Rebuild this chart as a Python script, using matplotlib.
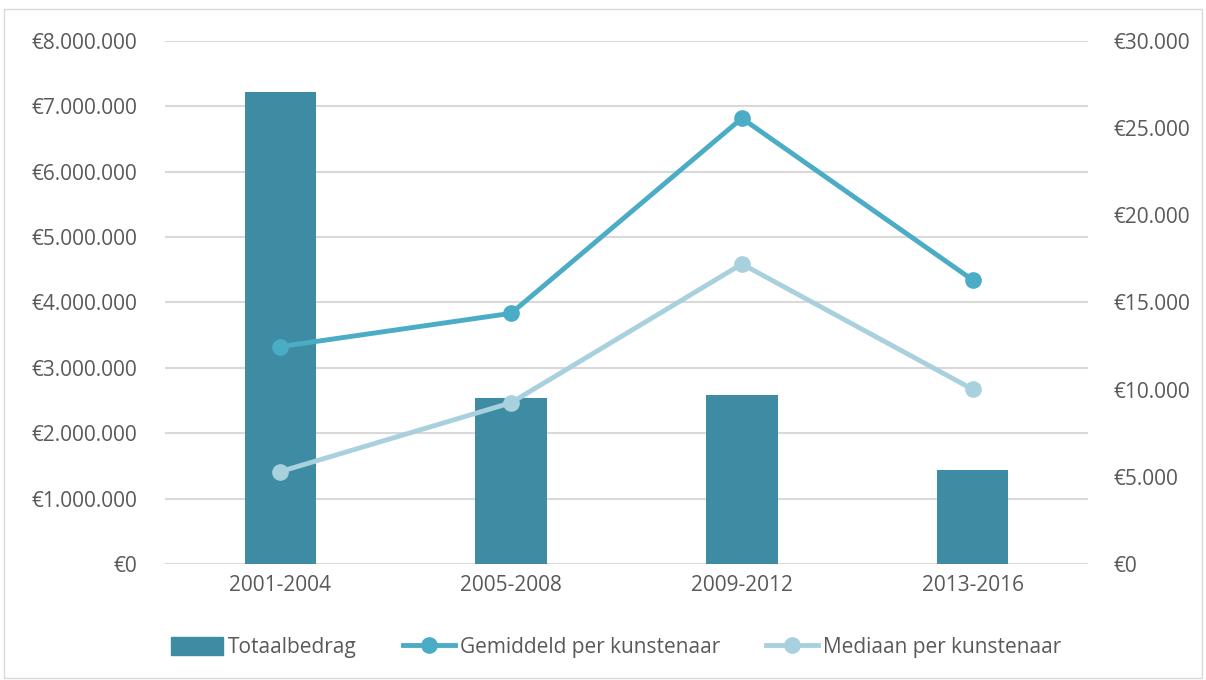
import matplotlib
matplotlib.use("Agg")
import matplotlib.pyplot as plt
from matplotlib.ticker import FuncFormatter
from matplotlib.lines import Line2D
from matplotlib.patches import Patch, Rectangle

categories = ["2001-2004", "2005-2008", "2009-2012", "2013-2016"]
totaal = [7220000, 2540000, 2580000, 1437000]
gemiddeld = [12470, 14380, 25570, 16290]
mediaan = [5300, 9250, 17210, 10020]

plt.rcParams['font.family'] = ['Open Sans', 'DejaVu Sans']
txt = '#595959'
bar_c = '#3D8CA3'
gem_c = '#4BACC6'
med_c = '#A9D0DD'

fig = plt.figure(figsize=(12.06, 6.8), dpi=100)
ax = fig.add_axes([0.1368, 0.1706, 0.7654, 0.7691])
ax2 = ax.twinx()

x = list(range(len(categories)))
ax.bar(x, totaal, width=0.31, color=bar_c, zorder=2)
ax.set_ylim(0, 8000000)
ax.set_yticks(range(0, 8000001, 1000000))
ax.set_xlim(-0.5, 3.5)
ax.set_xticks(x)
ax.set_xticklabels(categories)

def eur(v, pos=None):
    return '€' + f"{int(round(v)):,}".replace(',', '.')

ax.yaxis.set_major_formatter(FuncFormatter(eur))
ax.grid(axis='y', color='#d9d9d9', linewidth=1.5, zorder=0)
ax.set_axisbelow(True)

ax2.plot(x, gemiddeld, color=gem_c, lw=3.5, marker='o', ms=11, zorder=3)
ax2.plot(x, mediaan, color=med_c, lw=3.5, marker='o', ms=11, zorder=3)
ax2.set_ylim(0, 30000)
ax2.set_yticks(range(0, 30001, 5000))
ax2.yaxis.set_major_formatter(FuncFormatter(eur))

fs = 15
for a in (ax, ax2):
    for s in a.spines.values():
        s.set_visible(False)
    a.tick_params(length=0, labelsize=fs, colors=txt)
ax.tick_params(axis='y', pad=20)
ax.tick_params(axis='x', pad=8)
ax2.tick_params(axis='y', pad=18)

handles = [Patch(color=bar_c),
           Line2D([0], [0], color=gem_c, lw=3.5, marker='o', ms=11),
           Line2D([0], [0], color=med_c, lw=3.5, marker='o', ms=11)]
labels = ["Totaalbedrag", "Gemiddeld per kunstenaar", "Mediaan per kunstenaar"]
fig.legend(handles, labels, loc='center', bbox_to_anchor=(0.511, 0.048), ncol=3,
           frameon=False, fontsize=fs, labelcolor=txt, handlelength=2.5,
           handletextpad=0.25, columnspacing=2.2, handleheight=1.0)

fig.patches.append(Rectangle((0.003, 0.003), 0.994, 0.984, transform=fig.transFigure,
                             fill=False, edgecolor='#d9d9d9', lw=1))

fig.savefig('out.png', dpi=100)
